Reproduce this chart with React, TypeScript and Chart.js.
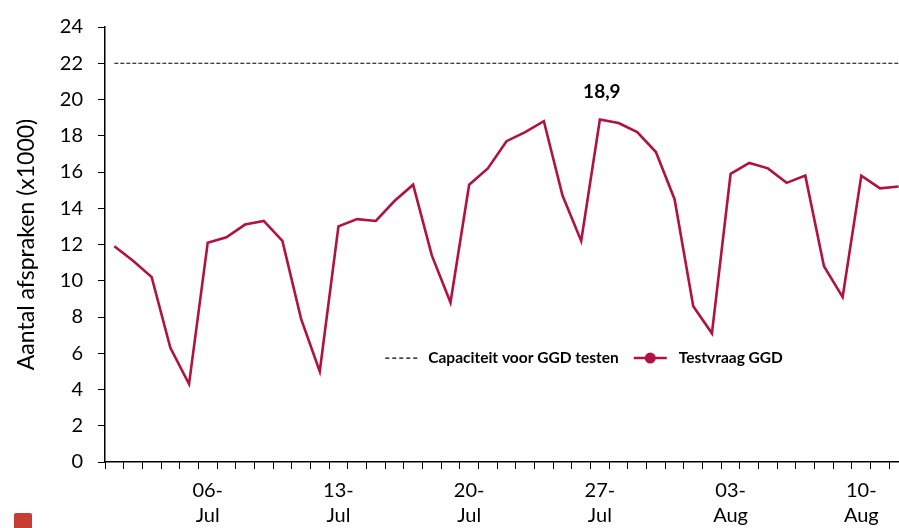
import React, { useEffect, useRef } from 'react';
import { Chart, registerables } from 'chart.js';

Chart.register(...registerables);

const categories = [
  '01-Jul', '02-Jul', '03-Jul', '04-Jul', '05-Jul', '06-Jul', '07-Jul', '08-Jul', '09-Jul', '10-Jul',
  '11-Jul', '12-Jul', '13-Jul', '14-Jul', '15-Jul', '16-Jul', '17-Jul', '18-Jul', '19-Jul', '20-Jul',
  '21-Jul', '22-Jul', '23-Jul', '24-Jul', '25-Jul', '26-Jul', '27-Jul', '28-Jul', '29-Jul', '30-Jul',
  '31-Jul', '01-Aug', '02-Aug', '03-Aug', '04-Aug', '05-Aug', '06-Aug', '07-Aug', '08-Aug', '09-Aug',
  '10-Aug', '11-Aug', '12-Aug',
];

const testvraag = [
  11.9, 11.1, 10.2, 6.3, 4.3, 12.1, 12.4, 13.1, 13.3, 12.2,
  7.9, 5.0, 13.0, 13.4, 13.3, 14.4, 15.3, 11.4, 8.8, 15.3,
  16.2, 17.7, 18.2, 18.8, 14.7, 12.2, 18.9, 18.7, 18.2, 17.1,
  14.5, 8.6, 7.1, 15.9, 16.5, 16.2, 15.4, 15.8, 10.8, 9.1,
  15.8, 15.1, 15.2,
];

const capaciteit = [
  22, 22, 22, 22, 22, 22, 22, 22, 22, 22,
  22, 22, 22, 22, 22, 22, 22, 22, 22, 22,
  22, 22, 22, 22, 22, 22, 22, 22, 22, 22,
  22, 22, 22, 22, 22, 22, 22, 22, 22, 22,
  22, 22, 22,
];

const tickLabels = ['06-Jul', '13-Jul', '20-Jul', '27-Jul', '03-Aug', '10-Aug'];

const seriesNames = ['Capaciteit voor GGD testen', 'Testvraag GGD'];
const yTitle = 'Aantal afspraken (x1000)';

const RED = '#b2123f';
const FONT = 'Lato';
const TEXT = '#000';

const overlayPlugin = {
  id: 'overlay',
  afterDatasetsDraw(chart: any) {
    const { ctx, chartArea } = chart;
    const w = chartArea.right - chartArea.left;
    const h = chartArea.bottom - chartArea.top;

    // peak label
    const meta = chart.getDatasetMeta(1);
    const data = chart.data.datasets[1].data as number[];
    let maxI = 0;
    data.forEach((v, i) => { if (v > data[maxI]) maxI = i; });
    const pt = meta.data[maxI];
    ctx.save();
    ctx.font = `bold 19px ${FONT}`;
    ctx.fillStyle = TEXT;
    ctx.textAlign = 'center';
    ctx.textBaseline = 'middle';
    ctx.fillText(String(data[maxI]).replace('.', ','), pt.x + 2, pt.y - 28);
    ctx.restore();

    // legend inside chart area
    const x0 = chartArea.left + w * 0.349;
    const y = chartArea.top + h * 0.761;
    ctx.save();
    ctx.font = `bold 15.5px ${FONT}`;
    ctx.fillStyle = TEXT;
    ctx.textBaseline = 'middle';
    ctx.textAlign = 'left';
    // dashed sample
    ctx.strokeStyle = '#000';
    ctx.lineWidth = 1.2;
    ctx.setLineDash([4, 3]);
    ctx.beginPath();
    ctx.moveTo(x0, y);
    ctx.lineTo(x0 + 35, y);
    ctx.stroke();
    ctx.setLineDash([]);
    let x = x0 + 43;
    ctx.fillText(seriesNames[0], x, y);
    x += ctx.measureText(seriesNames[0]).width + 15;
    // red sample
    ctx.strokeStyle = RED;
    ctx.lineWidth = 2.5;
    ctx.beginPath();
    ctx.moveTo(x, y);
    ctx.lineTo(x + 33, y);
    ctx.stroke();
    ctx.fillStyle = RED;
    ctx.beginPath();
    ctx.arc(x + 16.5, y, 5.5, 0, Math.PI * 2);
    ctx.fill();
    x += 45;
    ctx.fillStyle = TEXT;
    ctx.fillText(seriesNames[1], x, y);
    ctx.restore();
  },
};

export default function App() {
  const ref = useRef<HTMLCanvasElement | null>(null);

  useEffect(() => {
    if (!ref.current) return;
    const chart = new Chart(ref.current, {
      type: 'line',
      data: {
        labels: categories,
        datasets: [
          {
            label: seriesNames[0],
            data: capaciteit,
            borderColor: '#000',
            borderWidth: 1.2,
            borderDash: [4, 2],
            pointRadius: 0,
            tension: 0,
            fill: false,
          },
          {
            label: seriesNames[1],
            data: testvraag,
            borderColor: RED,
            backgroundColor: RED,
            borderWidth: 2.6,
            pointRadius: 0,
            tension: 0,
            fill: false,
          },
        ],
      },
      options: {
        responsive: false,
        animation: false,
        layout: { padding: { top: 18, right: 2, bottom: 0, left: 0 } },
        plugins: {
          legend: { display: false },
          tooltip: { enabled: false },
          title: { display: false },
        },
        scales: {
          x: {
            type: 'category',
            offset: true,
            afterFit: (s: any) => { s.height = 66; },
            grid: {
              offset: true,
              drawOnChartArea: false,
              drawTicks: true,
              tickLength: 7,
              color: '#000',
              lineWidth: 1,
            },
            border: { display: true, color: '#000', width: 1.5 },
            ticks: {
              autoSkip: false,
              maxRotation: 0,
              minRotation: 0,
              padding: 9,
              color: TEXT,
              font: { family: FONT, size: 20, lineHeight: 1.25 },
              callback: function (this: any, value: any) {
                const lab = categories[value as number];
                if (tickLabels.includes(lab)) {
                  const [d, m] = lab.split('-');
                  return [d + '-', m];
                }
                return '';
              },
            },
          },
          y: {
            min: 0,
            max: 24,
            afterFit: (s: any) => { s.width = 105; },
            grid: {
              drawOnChartArea: false,
              drawTicks: true,
              tickLength: 7,
              color: '#000',
              lineWidth: 1,
            },
            border: { display: true, color: '#000', width: 1.5 },
            ticks: {
              stepSize: 2,
              padding: 15,
              color: TEXT,
              font: { family: FONT, size: 20 },
            },
            title: {
              display: true,
              text: yTitle,
              color: TEXT,
              font: { family: FONT, size: 23, lineHeight: 1.2 },
              padding: { top: 13, bottom: 0 },
            },
          },
        },
      },
      plugins: [overlayPlugin],
    });
    return () => chart.destroy();
  }, []);

  return (
    <div style={{ position: 'fixed', left: 0, top: 0, width: 899, height: 528, overflow: 'hidden', background: '#fff' }}>
      <canvas ref={ref} width={910} height={528} style={{ display: 'block' }} />
      <div style={{ position: 'absolute', left: 14, top: 513, width: 18, height: 18, background: '#c63c32', borderRadius: 2 }} />
    </div>
  );
}
